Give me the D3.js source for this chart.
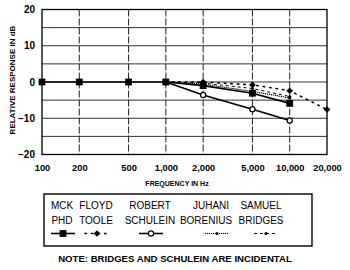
<!DOCTYPE html>
<html>
<head>
<meta charset="utf-8">
<script src="https://cdn.jsdelivr.net/npm/d3@7"></script>
<style>
body{margin:0;background:#fff;}
svg{display:block;font-family:"Liberation Sans",Arial,sans-serif;}
</style>
</head>
<body>
<svg width="350" height="270"></svg>
<script>
var freqTicks=[100,200,500,1000,2000,5000,10000,20000];
var dbTicks=[20,10,0,-10,-20];

// values (Hz, dB)
var mckFreq=[100,200,500,1000,2000,5000,10000];
var mckDb=[0,0,0,0,-1,-3.1,-5.9];
var tooleFreq=[1000,2000,5000,10000,20000];
var tooleDb=[0,0,-0.8,-2.4,-7.6];
var schuleinFreq=[1000,2000,5000,10000];
var schuleinDb=[0,-3.6,-7.5,-10.6];
var boreniusFreq=[1000,2000,5000,10000];
var boreniusDb=[0,-0.6,-2.6,-4.4];
var bridgesFreq=[1000,2000,5000,10000];
var bridgesDb=[0,-0.3,-1.8,-4.0];

var legendTop=['MCK','FLOYD','ROBERT','JUHANI','SAMUEL'];
var legendBottom=['PHD','TOOLE','SCHULEIN','BORENIUS','BRIDGES'];

var padding={top:9.5,right:23,bottom:115.5,left:42};
var width=350,height=270;

var svg=d3.select('svg');

var xScale=d3.scaleLog()
    .domain([100,20000])
    .range([padding.left,width-padding.right]);
var yScale=d3.scaleLinear()
    .domain([-20,20])
    .range([height-padding.bottom,padding.top]);

// grid
var grid=svg.append('g');
grid.selectAll('.hg')
    .data(d3.range(-15,20,5))
    .enter().append('line')
    .attr('x1',xScale(100)).attr('x2',xScale(20000))
    .attr('y1',function(d){return yScale(d);})
    .attr('y2',function(d){return yScale(d);})
    .attr('stroke','#333').attr('stroke-width',1);
grid.selectAll('.vg')
    .data(freqTicks.slice(1,-1))
    .enter().append('line')
    .attr('x1',function(d){return xScale(d);})
    .attr('x2',function(d){return xScale(d);})
    .attr('y1',yScale(20)).attr('y2',yScale(-20))
    .attr('stroke','#222').attr('stroke-width',1)
    .attr('stroke-dasharray','7,2');

svg.append('rect')
    .attr('x',xScale(100)).attr('y',yScale(20))
    .attr('width',xScale(20000)-xScale(100))
    .attr('height',yScale(-20)-yScale(20))
    .attr('fill','none').attr('stroke','#000').attr('stroke-width',1.3);

// axes
var xAxis=d3.axisBottom(xScale)
    .tickValues(freqTicks)
    .tickFormat(d3.format(','))
    .tickSize(0).tickPadding(10);
var yAxis=d3.axisLeft(yScale)
    .tickValues(dbTicks)
    .tickSize(0).tickPadding(7);

var gx=svg.append('g')
    .attr('transform','translate(0,'+yScale(-20)+')')
    .call(xAxis);
gx.select('.domain').remove();
gx.selectAll('text').attr('font-size','9.3px').attr('font-weight','bold').attr('fill','#000')
    .attr('font-family','"Liberation Sans",Arial,sans-serif');

var gy=svg.append('g')
    .attr('transform','translate('+padding.left+',0)')
    .call(yAxis);
gy.select('.domain').remove();
gy.selectAll('text').attr('font-size','10px').attr('font-weight','bold').attr('fill','#000')
    .attr('font-family','"Liberation Sans",Arial,sans-serif');

svg.append('text')
    .attr('x',177).attr('y',185.5)
    .attr('text-anchor','middle')
    .attr('font-size','7px').attr('font-weight','bold')
    .text('FREQUENCY IN Hz');

svg.append('text')
    .attr('transform','translate(15,80) rotate(-90)')
    .attr('text-anchor','middle')
    .attr('font-size','8px').attr('font-weight','bold')
    .text('RELATIVE RESPONSE IN dB');

// series
var line=d3.line()
    .x(function(d){return xScale(d[0]);})
    .y(function(d){return yScale(d[1]);});

function pairs(f,v){return f.map(function(d,i){return [d,v[i]];});}

var series={
    mck:{data:pairs(mckFreq,mckDb),dash:null,w:1.6,cap:'butt',marker:'square'},
    toole:{data:pairs(tooleFreq,tooleDb),dash:'1.5,5',w:1.6,cap:'round',marker:'diamond'},
    schulein:{data:pairs(schuleinFreq,schuleinDb),dash:null,w:1.6,cap:'butt',marker:'circle'},
    borenius:{data:pairs(boreniusFreq,boreniusDb),dash:'1.2,0.8',w:1.2,cap:'butt',marker:'dot'},
    bridges:{data:pairs(bridgesFreq,bridgesDb),dash:'3,3',w:1,cap:'butt',marker:'dot'}
};
var drawOrder=['toole','bridges','borenius','schulein','mck'];
var legendOrder=['mck','toole','schulein','borenius','bridges'];

function drawMarker(g,type,x,y){
    if(type==='square'){
        g.append('rect').attr('x',x-3.4).attr('y',y-3.4).attr('width',6.8).attr('height',6.8).attr('fill','#000');
    }else if(type==='diamond'){
        g.append('path').attr('d',d3.symbol(d3.symbolDiamond2,28)()).attr('transform','translate('+x+','+y+')').attr('fill','#000');
    }else if(type==='circle'){
        g.append('circle').attr('cx',x).attr('cy',y).attr('r',2.6).attr('fill','#fff').attr('stroke','#000').attr('stroke-width',1.2);
    }else{
        g.append('circle').attr('cx',x).attr('cy',y).attr('r',1.6).attr('fill','#000');
    }
}

drawOrder.forEach(function(k){
    var s=series[k];
    var g=svg.append('g');
    g.append('path')
        .attr('d',line(s.data))
        .attr('fill','none')
        .attr('stroke','#000')
        .attr('stroke-width',s.w)
        .attr('stroke-linecap',s.cap)
        .attr('stroke-dasharray',s.dash);
    s.data.forEach(function(d){
        drawMarker(g,s.marker,xScale(d[0]),yScale(d[1]));
    });
});

// legend
var legend=svg.append('g');
legend.append('rect')
    .attr('x',44).attr('y',194).attr('width',268).attr('height',52)
    .attr('fill','none').attr('stroke','#000').attr('stroke-width',1.4);

var colX=[62,96,150,208,261];
var sampleX=[63,97,151,217,266];
legend.selectAll('.t1').data(legendTop).enter().append('text')
    .attr('x',function(d,i){return colX[i]+(i===3?3:0);}).attr('y',209)
    .attr('text-anchor','middle').attr('font-size','10px')
    .text(function(d){return d;});
legend.selectAll('.t2').data(legendBottom).enter().append('text')
    .attr('x',function(d,i){return colX[i]-(i===3?2:0);}).attr('y',224)
    .attr('text-anchor','middle').attr('font-size','10px')
    .text(function(d){return d;});

legendOrder.forEach(function(k,i){
    var s=series[k];
    var cx=sampleX[i],cy=233.5;
    var g=legend.append('g');
    g.append('line')
        .attr('x1',cx-12).attr('x2',cx+12).attr('y1',cy).attr('y2',cy)
        .attr('stroke','#000').attr('stroke-width',s.w)
        .attr('stroke-linecap',s.cap)
        .attr('stroke-dasharray',s.dash);
    drawMarker(g,s.marker,cx,cy);
});

svg.append('text')
    .attr('x',175).attr('y',261.5)
    .attr('text-anchor','middle')
    .attr('font-size','9.6px').attr('font-weight','bold')
    .text('NOTE: BRIDGES AND SCHULEIN ARE INCIDENTAL');
</script>
</body>
</html>
